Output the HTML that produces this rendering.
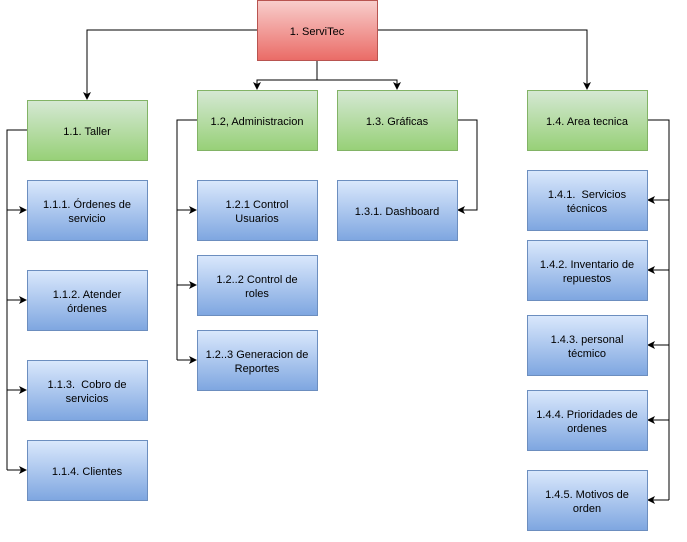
<!DOCTYPE html>
<html><head><style>body{margin:0;background:#fff}svg{display:block}</style></head><body>
<svg width="687" height="542" xmlns="http://www.w3.org/2000/svg" font-family="Liberation Sans, sans-serif" font-size="11">
<defs>
<linearGradient id="r" x1="0" y1="0" x2="0" y2="1"><stop offset="0" stop-color="#f8cecc"/><stop offset="1" stop-color="#ea6b66"/></linearGradient>
<linearGradient id="g" x1="0" y1="0" x2="0" y2="1"><stop offset="0" stop-color="#d5e8d4"/><stop offset="1" stop-color="#97d077"/></linearGradient>
<linearGradient id="b" x1="0" y1="0" x2="0" y2="1"><stop offset="0" stop-color="#dae8fc"/><stop offset="1" stop-color="#7ea6e0"/></linearGradient>
<marker id="a" markerWidth="8" markerHeight="8" refX="7" refY="4" orient="auto" markerUnits="userSpaceOnUse"><path d="M0,0 L8,4 L0,8 L2,4 Z" fill="#000"/></marker>
</defs>
<g fill="none" stroke="#000" stroke-width="1">
<path d="M257,30 H87 V99" marker-end="url(#a)"/>
<path d="M377,30 H587 V89" marker-end="url(#a)"/>
<path d="M317,60 V80 H257 V89" marker-end="url(#a)"/>
<path d="M317,80 H397 V89" marker-end="url(#a)"/>
<path d="M27,130 H7 V470"/>
<path d="M7,210 H26" marker-end="url(#a)"/><path d="M7,300 H26" marker-end="url(#a)"/><path d="M7,390 H26" marker-end="url(#a)"/><path d="M7,470 H26" marker-end="url(#a)"/>
<path d="M197,120 H177 V360"/>
<path d="M177,210 H196" marker-end="url(#a)"/><path d="M177,285 H196" marker-end="url(#a)"/><path d="M177,360 H196" marker-end="url(#a)"/>
<path d="M457,120 H477 V210 H458" marker-end="url(#a)"/>
<path d="M647,120 H669 V500"/>
<path d="M669,200 H648" marker-end="url(#a)"/><path d="M669,270 H648" marker-end="url(#a)"/><path d="M669,345 H648" marker-end="url(#a)"/><path d="M669,420 H648" marker-end="url(#a)"/><path d="M669,500 H648" marker-end="url(#a)"/>
</g>
<g stroke-width="1">
<rect x="257.5" y="0.5" width="120" height="60" fill="url(#r)" stroke="#b85450"/>
<rect x="27.5" y="100.5" width="120" height="60" fill="url(#g)" stroke="#82b366"/>
<rect x="197.5" y="90.5" width="120" height="60" fill="url(#g)" stroke="#82b366"/>
<rect x="337.5" y="90.5" width="120" height="60" fill="url(#g)" stroke="#82b366"/>
<rect x="527.5" y="90.5" width="120" height="60" fill="url(#g)" stroke="#82b366"/>
<g fill="url(#b)" stroke="#6c8ebf">
<rect x="27.5" y="180.5" width="120" height="60"/><rect x="27.5" y="270.5" width="120" height="60"/><rect x="27.5" y="360.5" width="120" height="60"/><rect x="27.5" y="440.5" width="120" height="60"/>
<rect x="197.5" y="180.5" width="120" height="60"/><rect x="197.5" y="255.5" width="120" height="60"/><rect x="197.5" y="330.5" width="120" height="60"/>
<rect x="337.5" y="180.5" width="120" height="60"/>
<rect x="527.5" y="170.5" width="120" height="60"/><rect x="527.5" y="240.5" width="120" height="60"/><rect x="527.5" y="315.5" width="120" height="60"/><rect x="527.5" y="390.5" width="120" height="60"/><rect x="527.5" y="470.5" width="120" height="60"/>
</g>
</g>
<g fill="#000" text-anchor="middle">
<text x="317" y="35">1. ServiTec</text>
<text x="87" y="135">1.1. Taller</text>
<text x="257" y="125">1.2, Administracion</text>
<text x="397" y="125">1.3. Gráficas</text>
<text x="587" y="125">1.4. Area tecnica</text>
<text x="87" y="208">1.1.1. Órdenes de</text><text x="87" y="222">servicio</text>
<text x="87" y="298">1.1.2. Atender</text><text x="87" y="312">órdenes</text>
<text x="87" y="388">1.1.3.&#160; Cobro de</text><text x="87" y="402">servicios</text>
<text x="87" y="475">1.1.4. Clientes</text>
<text x="257" y="208">1.2.1 Control</text><text x="257" y="222">Usuarios</text>
<text x="257" y="283">1.2..2 Control de</text><text x="257" y="297">roles</text>
<text x="257" y="358">1.2..3 Generacion de</text><text x="257" y="372">Reportes</text>
<text x="397" y="215">1.3.1. Dashboard</text>
<text x="587" y="198">1.4.1.&#160; Servicios</text><text x="587" y="212">técnicos</text>
<text x="587" y="268">1.4.2. Inventario de</text><text x="587" y="282">repuestos</text>
<text x="587" y="343">1.4.3. personal</text><text x="587" y="357">técmico</text>
<text x="587" y="418">1.4.4. Prioridades de</text><text x="587" y="432">ordenes</text>
<text x="587" y="498">1.4.5. Motivos de</text><text x="587" y="512">orden</text>
</g>
</svg>
</body></html>
